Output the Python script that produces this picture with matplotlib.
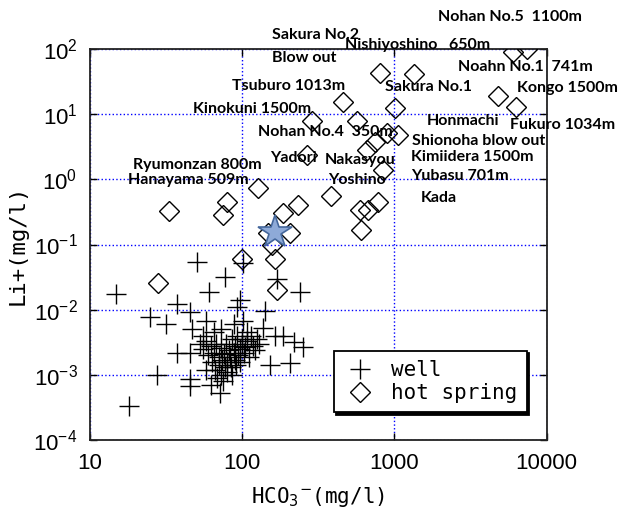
import numpy as np
import matplotlib
matplotlib.use("Agg")
import matplotlib.pyplot as plt
from matplotlib import font_manager

# well samples (HCO3-, Li+) in mg/l
well_hco3 = [18.0, 14.8, 27.5, 24.8, 31.5, 37.2, 50.4, 76.9, 60.4, 45.3,
             57.7, 46.7, 37.2, 45.3, 45.3, 45.3, 71.3, 96.4, 92.2, 101,
             141, 169, 239, 218, 250, 205, 152, 137, 164, 185,
             101, 107, 125,
             52.7, 55, 58, 60, 62, 63, 65, 66, 67, 68,
             70, 70, 72, 72, 74, 75, 76, 77, 78, 79,
             80, 82, 83, 84, 85, 86, 88, 89, 90, 91,
             93, 94, 96, 97, 99, 100, 103, 105, 108, 110,
             115, 118, 122, 128, 58, 62, 65, 55, 73, 88]
well_li = [0.00033, 0.0177, 0.00101, 0.0078, 0.0060, 0.0124, 0.054, 0.032, 0.0188, 0.0093,
           0.0068, 0.0050, 0.0022, 0.0022, 0.00087, 0.00068, 0.00053, 0.0141, 0.0110, 0.0529,
           0.0096, 0.030, 0.0184, 0.0032, 0.0027, 0.0015, 0.0014, 0.0053, 0.0039, 0.0039,
           0.0068, 0.0045, 0.0035,
           0.0030, 0.0025, 0.0033, 0.0020, 0.0028, 0.0016, 0.0022, 0.0012, 0.0030, 0.0009,
           0.0019, 0.0014, 0.0026, 0.0010, 0.0017, 0.0008, 0.0021, 0.0013, 0.0030, 0.0011,
           0.0016, 0.0024, 0.0019, 0.0013, 0.0035, 0.0010, 0.0022, 0.0017, 0.0028, 0.0014,
           0.0040, 0.0020, 0.0025, 0.0016, 0.0030, 0.0036, 0.0022, 0.0027, 0.0033, 0.0019,
           0.0040, 0.0028, 0.0024, 0.0030, 0.0012, 0.0007, 0.0045, 0.0040, 0.0050, 0.0060]

# hot spring samples
spring_hco3 = [27.9, 33.0, 74.6, 79.3, 99.4, 126.5, 147, 205, 156, 164,
               169, 185, 232, 265, 286, 381, 457, 565, 591, 667,
               776, 600, 657, 741, 889, 1050, 837, 800, 1336, 1003,
               4756, 6237, 5966, 7364]
spring_li = [0.0258, 0.327, 0.284, 0.450, 0.060, 0.738, 0.151, 0.151, 0.0986, 0.060,
             0.0201, 0.305, 0.405, 2.37, 7.87, 0.556, 15.4, 7.87, 0.340, 0.340,
             0.450, 0.167, 2.82, 3.75, 5.15, 4.80, 1.39, 42.9, 41.4, 12.4,
             19.0, 12.9, 90.0, 100.0]

star_hco3 = [164]
star_li = [0.156]

site_names = ["Nohan No.5  1100m", "Sakura No.2", "Nishiyoshino   650m", "Blow out",
              "Noahn No.1  741m", "Tsuburo 1013m", "Sakura No.1", "Kongo 1500m",
              "Kinokuni 1500m", "Honmachi", "Fukuro 1034m", "Nohan No.4  350m",
              "Shionoha blow out", "Kimiidera 1500m", "Yadori", "Nakasyou",
              "Ryumonzan 800m", "Yubasu 701m", "Hanayama 509m", "Yoshino", "Kada"]
name_hco3 = [1920, 156, 471, 156, 2600, 85.5, 863, 6340, 47.4, 1626, 5780, 126.5,
             1297, 1277, 152, 348, 19.1, 1277, 17.8, 365, 1486]
name_li = [310, 164, 115, 72.8, 53.0, 27.1, 26.1, 25.2, 12.0, 7.87, 6.83, 5.33,
           3.9, 2.2, 2.13, 1.99, 1.66, 1.13, 0.98, 0.98, 0.519]

names = {f.name for f in font_manager.fontManager.ttflist}
narrow = 'Liberation Sans Narrow' if 'Liberation Sans Narrow' in names else 'Liberation Sans'
plt.rcParams['font.family'] = [narrow, 'DejaVu Sans']

fig = plt.figure(figsize=(6.22, 5.20), dpi=100)
ax = fig.add_axes([0.1447, 0.1538, 0.7343, 0.752])

ax.plot(well_hco3, well_li, linestyle='none', marker='+', markersize=14,
        markeredgewidth=1.0, color='black', label='well', zorder=3)
ax.plot(spring_hco3, spring_li, linestyle='none', marker='D', markersize=10,
        markeredgewidth=1.0, markerfacecolor='none', markeredgecolor='black',
        label='hot spring', zorder=4)
ax.plot(star_hco3, star_li, linestyle='none', marker='*', markersize=25,
        markerfacecolor='#8eaad8', markeredgecolor='#44679c', markeredgewidth=1.2,
        zorder=5)

for name, xv, yv in zip(site_names, name_hco3, name_li):
    ax.text(xv, yv, name, fontsize=11.5, fontweight='bold', family='Lato',
            ha='left', va='center', clip_on=False, zorder=6)

ax.set_xscale('log')
ax.set_yscale('log')
ax.set_xlim(10, 10000)
ax.set_ylim(1e-4, 1e2)
ax.set_xticks([10, 100, 1000, 10000])
ax.set_xticklabels(['10', '100', '1000', '10000'])
ax.set_yticks([1e-4, 1e-3, 1e-2, 1e-1, 1e0, 1e1, 1e2])
ax.minorticks_off()
ax.tick_params(which='major', direction='in', length=5, width=1, top=True, right=True,
               labelsize=16, pad=9)
ax.grid(True, which='major', color='blue', linestyle=':', linewidth=1)
for sp in ax.spines.values():
    sp.set_linewidth(1.3)
    sp.set_color('#222222')

ax.set_xlabel('HCO$_3$$^{-}$(mg/l)', fontsize=15, family='DejaVu Sans Mono', labelpad=8)
ax.set_ylabel('Li+(mg/l)', fontsize=16, family='DejaVu Sans Mono', labelpad=4)

leg = ax.legend(loc='lower right', bbox_to_anchor=(0.965, 0.06), fancybox=False,
                shadow={'color': 'black', 'alpha': 1}, framealpha=1,
                edgecolor='black', prop={'family': 'DejaVu Sans Mono', 'size': 15},
                handletextpad=0.7, borderpad=0.45, labelspacing=0.15, handlelength=1.6,
                borderaxespad=0.2)
leg.get_frame().set_linewidth(1.3)

fig.savefig('out.png', dpi=100)
